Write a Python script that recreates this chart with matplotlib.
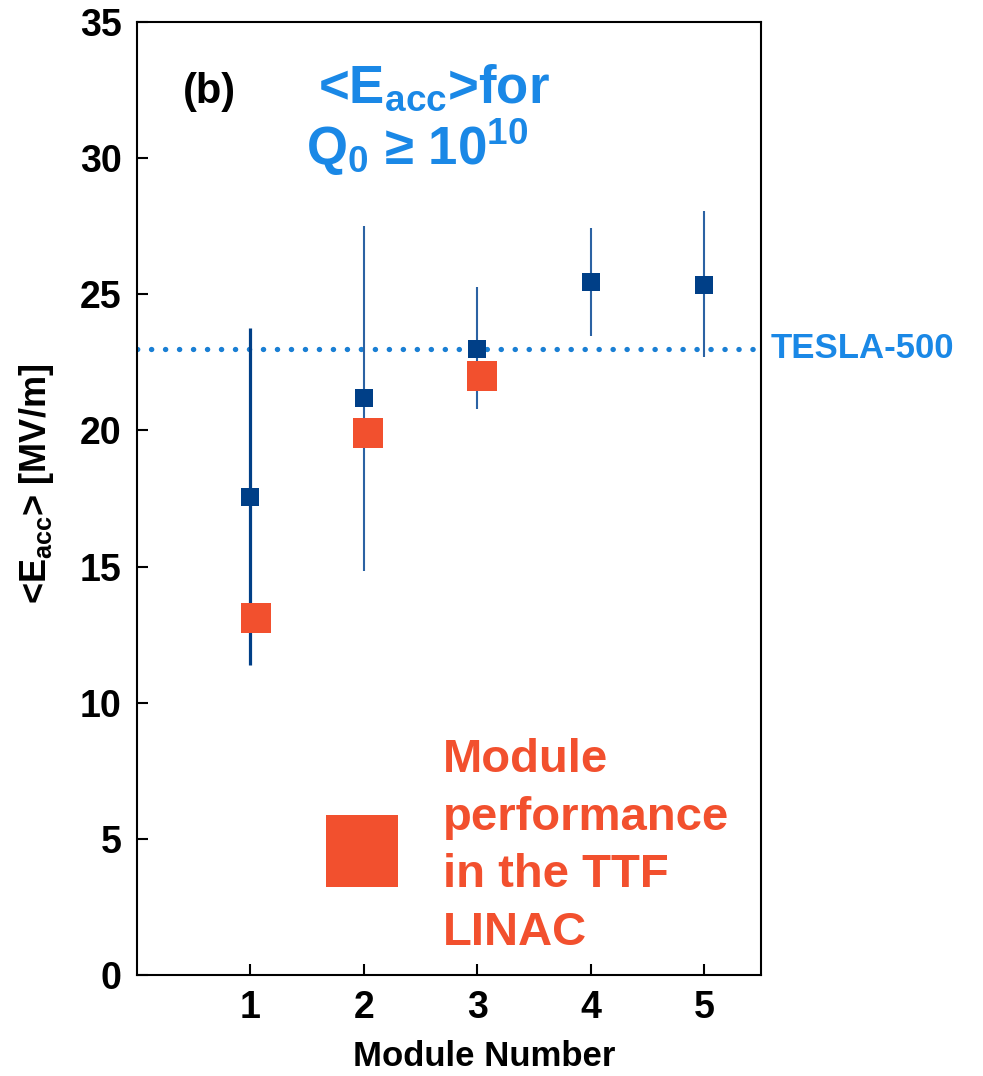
import matplotlib
matplotlib.use("Agg")
import matplotlib.pyplot as plt
from matplotlib.transforms import blended_transform_factory

plt.rcParams['font.family'] = ['Liberation Sans', 'DejaVu Sans']
plt.rcParams['font.weight'] = 'bold'
plt.rcParams['mathtext.fontset'] = 'custom'
plt.rcParams['mathtext.rm'] = 'Liberation Sans:bold'
plt.rcParams['mathtext.bf'] = 'Liberation Sans:bold'
plt.rcParams['mathtext.it'] = 'Liberation Sans:bold'

# vertical test results per module: mean, upper and lower spread
modules = [1, 2, 3, 4, 5]
eacc_mean = [17.55, 21.2, 23.0, 25.45, 25.35]
eacc_high = [23.75, 27.5, 25.25, 27.45, 28.05]
eacc_low = [11.4, 14.85, 20.8, 23.45, 22.7]

# module performance in the TTF linac
linac_modules = [1.05, 2.04, 3.04]
linac_eacc = [13.1, 19.9, 22.0]

tesla_500 = 23.0

dark_blue = '#003f87'
light_blue = '#1a88e6'
red = '#f2502e'

fig = plt.figure(figsize=(9.83, 10.76), dpi=100)
ax = fig.add_axes([0.1394, 0.0939, 0.6348, 0.8857])

ax.axhline(tesla_500, color='#1a7fd4', lw=3.8, ls=(0, (0.05, 2.6)),
           dash_capstyle='round', zorder=1)

ax.vlines(modules, eacc_low, eacc_high, colors=[dark_blue] + ['#2b62a3'] * 4,
          linewidths=[2.3, 1.5, 1.5, 1.5, 1.5], zorder=2)
ax.plot(modules, eacc_mean, 's', color=dark_blue, ms=12.5, mew=0, zorder=3)
ax.plot(linac_modules, linac_eacc, 's', color=red, ms=21, mew=0, zorder=4)

ax.set_xlim(0, 5.5)
ax.set_ylim(0, 35)
ax.set_xticks(modules)
ax.set_yticks(range(0, 36, 5))
ax.tick_params(direction='in', length=8, width=1.5, labelsize=27, pad=11,
               top=False, right=False)
for s in ax.spines.values():
    s.set_linewidth(1.5)

ax.set_xlabel('Module Number', fontsize=25, fontweight='bold')
ax.xaxis.set_label_coords(0.556, -0.068)
ax.set_ylabel(r'<E$_{\mathrm{acc}}$> [MV/m]', fontsize=26, fontweight='bold')
ax.yaxis.set_label_coords(-0.13, 0.515)

ax.text(0.074, 0.915, '(b)', transform=ax.transAxes, fontsize=30,
        fontweight='bold', va='baseline', ha='left')
ax.text(0.29, 0.915, r'<E$_{\mathrm{acc}}$>for', transform=ax.transAxes,
        fontsize=38, fontweight='bold', color=light_blue, va='baseline', ha='left')
ax.text(0.27, 0.85, r'Q$_{\mathrm{0}}$ ≥ 10$^{\mathrm{10}}$', transform=ax.transAxes,
        fontsize=38, fontweight='bold', color=light_blue, va='baseline', ha='left')

trans = blended_transform_factory(ax.transAxes, ax.transData)
ax.text(1.016, tesla_500, 'TESLA-500', transform=trans, fontsize=25,
        fontweight='bold', color=light_blue, va='center', ha='left', clip_on=False)

# legend
ax.plot([0.36], [0.13], 's', color=red, ms=52, mew=0, transform=ax.transAxes)
legend_lines = ['Module', 'performance', 'in the TTF', 'LINAC']
for i, line in enumerate(legend_lines):
    ax.text(0.49, 0.213 - i * 0.0605, line, transform=ax.transAxes, fontsize=34,
            fontweight='bold', color=red, va='baseline', ha='left')

fig.savefig('out.png', dpi=100)
